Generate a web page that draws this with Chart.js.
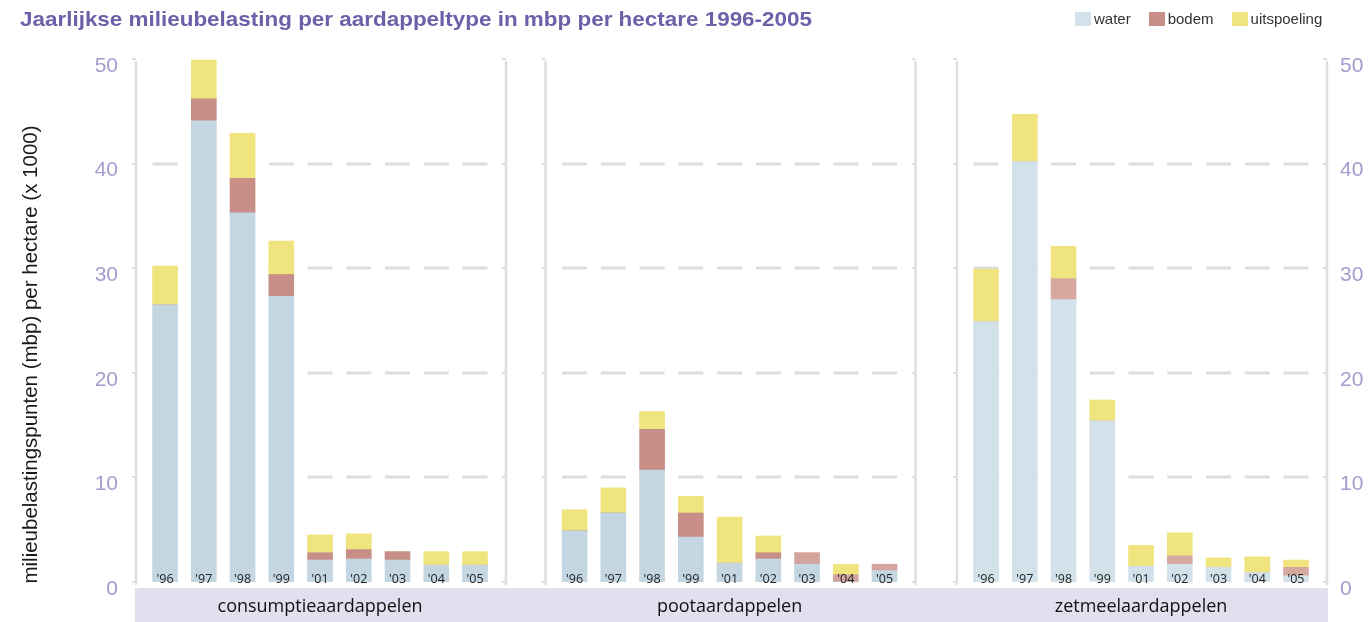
<!DOCTYPE html>
<html>
<head>
<meta charset="utf-8">
<script src="https://cdn.jsdelivr.net/npm/chart.js@4.4.1/dist/chart.umd.min.js"></script>
<style>
  html, body { margin: 0; padding: 0; background: #fff; }
  #wrap { position: relative; width: 1371px; height: 622px; overflow: hidden; }
  #title {
    position: absolute; left: 20px; top: 7px; line-height: 1; white-space: nowrap;
    font: bold 21px "Liberation Sans Narrow", "Liberation Sans", sans-serif; color: #6b61a8;
    transform-origin: 0 0;
  }
  #legend { position: absolute; left: 1075px; top: 12px; display: flex; gap: 18px;
    font: 15px "Liberation Sans", sans-serif; color: #333; }
  #legend span.item { display: flex; align-items: center; gap: 3px; line-height: 14px; }
  #legend span.box { display: inline-block; width: 16px; height: 14px; }
</style>
</head>
<body>
<div id="wrap">
  <canvas id="myChart"></canvas>
  <div id="title">Jaarlijkse milieubelasting per aardappeltype in mbp per hectare 1996-2005</div>
  <div id="legend"></div>
</div>
<script>
// data (x 1000 mbp per hectare)
const years = ["'96", "'97", "'98", "'99", "'01", "'02", "'03", "'04", "'05"];
const groups = ['consumptieaardappelen', 'pootaardappelen', 'zetmeelaardappelen'];
const seriesNames = ['water', 'bodem', 'uitspoeling'];

const consumptieWater = [26.5, 44.1, 35.3, 27.3, 2.1, 2.2, 2.1, 1.6, 1.6];
const consumptieBodem = [0, 2.1, 3.3, 2.1, 0.7, 0.9, 0.8, 0, 0];
const consumptieUitspoeling = [3.7, 3.7, 4.3, 3.2, 1.7, 1.5, 0, 1.3, 1.3];

const pootWater = [4.9, 6.6, 10.7, 4.3, 1.8, 2.2, 1.7, 0, 1.1];
const pootBodem = [0, 0, 3.9, 2.3, 0, 0.6, 1.1, 0.7, 0.6];
const pootUitspoeling = [2.0, 2.4, 1.7, 1.6, 4.4, 1.6, 0, 1.0, 0];

const zetmeelWater = [24.9, 40.2, 27.0, 15.4, 1.5, 1.7, 1.4, 0.9, 0.6];
const zetmeelBodem = [0, 0, 2.0, 0, 0, 0.8, 0, 0, 0.8];
const zetmeelUitspoeling = [5.0, 4.5, 3.1, 2.0, 2.0, 2.2, 0.9, 1.5, 0.7];

const yMax = 50;
const yStep = 10;

// layout / style
const groupStart = [0, 10.57, 21.19];   // x units, one unit = one bar slot
const panelPadL = 0.75, panelPadR = 0.8;
const waterColors = ['#c3d6e2', '#c3d6e2', '#d3e1ea'];
const bodemColors = ['#c88f88', '#c88f88', '#d5a8a0'];
const bodemLight = '#d4a59e';
const uitspColor = '#f0e47f';
const legendColors = ['#d3e1ea', '#c88f88', '#f0e47f'];
const tickColor = '#a79bcd';
const lineGrey = '#dedede';

// title squeezed to the reference width
const titleEl = document.getElementById('title');
titleEl.style.transform = 'scaleX(' + (792 / titleEl.getBoundingClientRect().width) + ')';

// html legend
const legendEl = document.getElementById('legend');
seriesNames.forEach((name, i) => {
    legendEl.innerHTML += '<span class="item"><span class="box" style="background:' + legendColors[i] + '"></span>' + name + '</span>';
});

function points(arrs) {
    return arrs.flatMap((arr, g) => arr.map((v, i) => ({ x: groupStart[g] + i, y: v })));
}
const barXs = groupStart.flatMap(s => years.map((_, i) => s + i));

const bandAndLines = {
    id: 'bandAndLines',
    beforeDatasetsDraw(chart) {
        const { ctx, scales: { x, y } } = chart;
        const zero = y.getPixelForValue(0);
        const top = y.getPixelForValue(yMax);
        // purple band under the panels
        const bl = x.getPixelForValue(groupStart[0] - panelPadL);
        const br = x.getPixelForValue(groupStart[2] + 8 + panelPadR);
        ctx.save();
        ctx.fillStyle = '#e2e0ee';
        ctx.fillRect(bl - 1, zero + 6, br - bl + 2, chart.height - zero - 6);
        // dashes at each bar column
        ctx.strokeStyle = '#dddddd';
        ctx.lineWidth = 3;
        for (let v = yStep; v < yMax; v += yStep) {
            const py = Math.round(y.getPixelForValue(v));
            barXs.forEach(bx => {
                const px = x.getPixelForValue(bx);
                ctx.beginPath();
                ctx.moveTo(px - 12.5, py);
                ctx.lineTo(px + 12.5, py);
                ctx.stroke();
            });
        }
        // panel borders with small ticks
        ctx.strokeStyle = lineGrey;
        groupStart.forEach(s => {
            [s - panelPadL, s + 8 + panelPadR].forEach(v => {
                const px = x.getPixelForValue(v);
                ctx.lineWidth = 2.5;
                ctx.beginPath();
                ctx.moveTo(px, top + 2);
                ctx.lineTo(px, zero + 3);
                ctx.stroke();
                ctx.lineWidth = 2;
                for (let t = 0; t <= yMax; t += yStep) {
                    const py = Math.round(y.getPixelForValue(t));
                    ctx.beginPath();
                    ctx.moveTo(px - 4, py);
                    ctx.lineTo(px, py);
                    ctx.stroke();
                }
            });
        });
        ctx.restore();
    },
    afterDatasetsDraw(chart) {
        const { ctx, scales: { x, y } } = chart;
        const zero = y.getPixelForValue(0);
        ctx.save();
        ctx.fillStyle = '#222';
        ctx.font = '12.5px "Open Sans", sans-serif';
        ctx.textAlign = 'center';
        ctx.textBaseline = 'alphabetic';
        barXs.forEach((bx, i) => {
            ctx.fillText(years[i % years.length], x.getPixelForValue(bx), zero + 0.5);
        });
        // group names in the band
        ctx.fillStyle = '#111';
        ctx.font = '18px "Open Sans", sans-serif';
        ctx.textBaseline = 'middle';
        groups.forEach((name, g) => {
            ctx.fillText(name, x.getPixelForValue(groupStart[g] + 4), zero + 25);
        });
        // y title
        ctx.translate(31, 354.5);
        ctx.rotate(-Math.PI / 2);
        ctx.font = '20.5px "Liberation Sans", sans-serif';
        ctx.fillStyle = '#1a1a1a';
        ctx.fillText('milieubelastingspunten (mbp) per hectare (x 1000)', 0, 0);
        ctx.restore();
    }
};

const bodemBg = groups.flatMap((_, g) => years.map((_, i) => (g === 1 && i >= 6) ? bodemLight : bodemColors[g]));

new Chart(document.getElementById('myChart'), {
    type: 'bar',
    data: {
        datasets: [
            { label: seriesNames[0], data: points([consumptieWater, pootWater, zetmeelWater]),
              backgroundColor: groups.flatMap((_, g) => years.map(() => waterColors[g])) },
            { label: seriesNames[1], data: points([consumptieBodem, pootBodem, zetmeelBodem]),
              backgroundColor: bodemBg },
            { label: seriesNames[2], data: points([consumptieUitspoeling, pootUitspoeling, zetmeelUitspoeling]),
              backgroundColor: uitspColor }
        ]
    },
    options: {
        responsive: true,
        maintainAspectRatio: false,
        animation: false,
        barThickness: 25,
        layout: { padding: { top: 59, left: 0, right: 0, bottom: 40 } },
        plugins: { legend: { display: false }, tooltip: { enabled: false } },
        scales: {
            x: {
                type: 'linear',
                display: false,
                offset: false,
                stacked: true,
                min: groupStart[0] - panelPadL,
                max: groupStart[2] + 8 + panelPadR
            },
            y: {
                stacked: true,
                min: 0, max: yMax,
                grid: { display: false, drawTicks: false },
                border: { display: false },
                afterFit: axis => { axis.width = 136; },
                ticks: { stepSize: yStep, padding: 18, labelOffset: 7, color: tickColor,
                         font: { family: '"Liberation Sans", sans-serif', size: 21 } }
            },
            y2: {
                position: 'right',
                min: 0, max: yMax,
                grid: { display: false, drawTicks: false },
                border: { display: false },
                afterFit: axis => { axis.width = 44; },
                ticks: { stepSize: yStep, padding: 13, labelOffset: 7, color: tickColor,
                         font: { family: '"Liberation Sans", sans-serif', size: 21 } }
            }
        }
    },
    plugins: [bandAndLines]
});
</script>
</body>
</html>
